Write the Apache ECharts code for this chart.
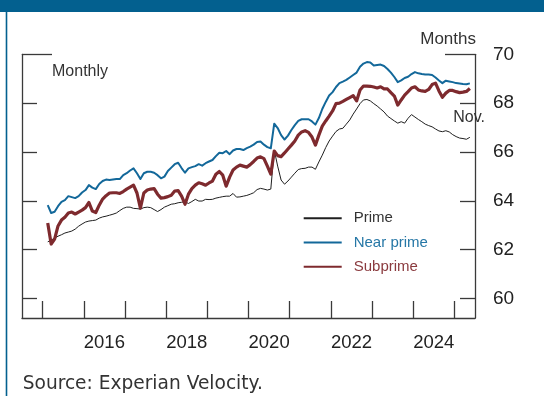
<!DOCTYPE html>
<html>
<head>
<meta charset="utf-8">
<style>
  html, body { margin: 0; padding: 0; background: #ffffff; }
  #chart { width: 544px; height: 396px; }
</style>
<script src="https://cdn.jsdelivr.net/npm/echarts@6/dist/echarts.min.js"></script>
</head>
<body>
<div id="chart"></div>
<script>
// Average loan term (months), monthly, August 2014 through November 2024
const startYear = 2014;
const startMonth = 8;

const prime = [
  62.32, 62.39, 62.47, 62.55, 62.61, 62.68, 62.72, 62.76, 62.84, 62.96, 63.05, 63.13,
  63.17, 63.19, 63.21, 63.29, 63.34, 63.37, 63.41, 63.45, 63.50, 63.60, 63.69, 63.74,
  63.74, 63.69, 63.68, 63.66, 63.72, 63.74, 63.72, 63.64, 63.56, 63.64, 63.74, 63.80,
  63.86, 63.88, 63.92, 63.94, 63.96, 63.89, 63.97, 64.06, 63.99, 63.99, 64.06, 64.05,
  64.06, 64.11, 64.14, 64.17, 64.19, 64.19, 64.30, 64.15, 64.16, 64.19, 64.22, 64.27,
  64.33, 64.46, 64.51, 64.48, 64.44, 64.48, 66.08, 65.42, 64.85, 64.68, 64.81, 64.97,
  65.13, 65.28, 65.32, 65.33, 65.38, 65.38, 65.29, 65.59, 65.87, 66.18, 66.45, 66.65,
  66.84, 66.94, 66.97, 67.14, 67.31, 67.55, 67.76, 67.98, 68.13, 68.15, 68.09, 67.98,
  67.88, 67.76, 67.64, 67.47, 67.37, 67.27, 67.18, 67.24, 67.18, 67.38, 67.53, 67.43,
  67.33, 67.24, 67.14, 67.08, 67.03, 66.94, 66.86, 66.83, 66.87, 66.82, 66.71, 66.63,
  66.57, 66.55, 66.52, 66.60
];

const nearPrime = [
  63.82, 63.50, 63.55, 63.78, 63.96, 64.03, 64.19, 64.15, 64.11, 64.19, 64.34, 64.44,
  64.64, 64.54, 64.48, 64.69, 64.81, 64.87, 64.85, 64.87, 64.89, 64.89, 65.05, 65.13,
  65.24, 65.33, 65.13, 64.89, 65.13, 65.19, 65.19, 65.15, 65.05, 64.92, 64.99, 65.22,
  65.36, 65.50, 65.56, 65.34, 65.15, 65.33, 65.38, 65.42, 65.50, 65.44, 65.54, 65.61,
  65.67, 65.83, 65.97, 65.95, 66.04, 65.91, 66.06, 66.12, 66.12, 66.08, 66.16, 66.22,
  66.30, 66.41, 66.43, 66.30, 66.20, 66.15, 67.16, 66.98, 66.69, 66.51, 66.67, 66.90,
  67.10, 67.27, 67.34, 67.34, 67.34, 67.25, 67.12, 67.39, 67.76, 68.05, 68.31, 68.45,
  68.66, 68.82, 68.88, 68.95, 69.05, 69.15, 69.25, 69.49, 69.62, 69.68, 69.66, 69.54,
  69.56, 69.58, 69.52, 69.40, 69.25, 69.07, 68.86, 68.93, 69.03, 69.08, 69.19, 69.27,
  69.22, 69.19, 69.17, 69.17, 69.15, 69.05, 68.93, 68.82, 68.92, 68.89, 68.86, 68.82,
  68.80, 68.78, 68.77, 68.81
];

const subprime = [
  63.09, 62.23, 62.43, 62.97, 63.21, 63.33, 63.50, 63.54, 63.46, 63.54, 63.62, 63.72,
  63.93, 63.58, 63.52, 63.82, 64.07, 64.21, 64.32, 64.33, 64.33, 64.30, 64.38, 64.48,
  64.56, 64.64, 64.32, 63.70, 64.32, 64.44, 64.48, 64.50, 64.27, 64.11, 64.13, 64.17,
  64.23, 64.40, 64.42, 64.19, 63.86, 64.27, 64.50, 64.64, 64.74, 64.70, 64.64, 64.73,
  64.81, 65.09, 65.20, 65.05, 64.60, 64.97, 65.26, 65.38, 65.46, 65.42, 65.38, 65.48,
  65.61, 65.75, 65.80, 65.73, 65.42, 65.09, 66.04, 65.85, 65.81, 65.96, 66.12, 66.28,
  66.45, 66.69, 66.82, 66.87, 66.80, 66.61, 66.28, 66.69, 67.06, 67.27, 67.47, 67.68,
  67.98, 68.00, 68.07, 68.15, 68.23, 68.31, 68.09, 68.54, 68.70, 68.70, 68.69, 68.66,
  68.62, 68.67, 68.58, 68.58, 68.43, 68.29, 67.92, 68.13, 68.33, 68.47, 68.62, 68.67,
  68.54, 68.50, 68.48, 68.56, 68.76, 68.82, 68.50, 68.24, 68.41, 68.52, 68.52, 68.47,
  68.43, 68.45, 68.48, 68.60
];

const yearLabels = [2016, 2018, 2020, 2022, 2024];
const yearTicks = [2014.5, 2015.5, 2016.5, 2017.5, 2018.5, 2019.5, 2020.5, 2021.5, 2022.5, 2023.5, 2024.5];
const valueLabels = [60, 62, 64, 66, 68, 70];
const valueTicks = [60, 62, 64, 66, 68];
const topTick = [70];

const seriesNames = ['Prime', 'Near prime', 'Subprime'];
const seriesColors = ['#1f1f1f', '#13689a', '#7e2a2e'];
const legendTextColors = ['#333333', '#2677a6', '#8a3a3e'];

const BLUE_BAND = '#03608f';
const FRAME = '#3a3a3a';
const SANS = '"Liberation Sans", Arial, Helvetica, sans-serif';

// monthly points placed at the middle of each month on a fractional-year scale
function toPoints(values) {
  return values.map((v, i) => [startYear + (startMonth - 1 + i + 0.5) / 12, v]);
}

const yRange = { min: 59.2, max: 70 };

function sideAxis(position, ticks, tickLen, showLine, labels) {
  return {
    type: 'value',
    position: position,
    min: yRange.min,
    max: yRange.max,
    axisLine: { show: showLine, lineStyle: { color: FRAME, width: 1.3 } },
    axisTick: { show: true, inside: true, length: tickLen, customValues: ticks,
                lineStyle: { color: FRAME, width: 1.3 } },
    axisLabel: labels ? {
      show: true, customValues: labels, margin: 18,
      color: '#222', fontSize: 19, fontFamily: SANS
    } : { show: false },
    splitLine: { show: false }
  };
}

const chart = echarts.init(document.getElementById('chart'), null, { renderer: 'canvas' });

chart.setOption({
  animation: false,
  backgroundColor: '#ffffff',
  grid: { left: 22, right: 69, top: 54.3, bottom: 78, containLabel: false },
  xAxis: {
    type: 'value',
    min: 2014,
    max: 2025,
    axisLine: { show: true, lineStyle: { color: FRAME, width: 1.3 } },
    axisTick: { show: true, inside: true, length: 17, customValues: yearTicks,
                lineStyle: { color: FRAME, width: 1.3 } },
    axisLabel: { show: true, customValues: yearLabels, margin: 15,
                 color: '#222', fontSize: 18.5, fontFamily: SANS,
                 formatter: v => String(v) },
    splitLine: { show: false }
  },
  yAxis: [
    sideAxis('right', valueTicks, 15, true, valueLabels),
    sideAxis('left', valueTicks, 15, true, null),
    sideAxis('left', topTick, 30, false, null),
    sideAxis('right', topTick, 30, false, null)
  ],
  legend: {
    orient: 'vertical',
    left: 302.7,
    top: 210.7,
    itemWidth: 38,
    itemHeight: 14,
    itemGap: 9.3,
    padding: 0,
    itemStyle: { opacity: 0 },
    textStyle: { fontSize: 15, fontFamily: SANS, padding: [0, 0, 0, 7] },
    data: seriesNames.map((n, k) => ({ name: n, textStyle: { color: legendTextColors[k] } }))
  },
  series: [
    { name: seriesNames[0], data: prime, width: 1 },
    { name: seriesNames[1], data: nearPrime, width: 2 },
    { name: seriesNames[2], data: subprime, width: 3.2 }
  ].map((s, k) => ({
    type: 'line',
    name: s.name,
    data: toPoints(s.data),
    showSymbol: false,
    symbol: 'none',
    z: 2 + k,
    lineStyle: { color: seriesColors[k], width: s.width, join: 'round' },
    itemStyle: { color: seriesColors[k] }
  })),
  graphic: [
    { type: 'rect', left: 0, top: 0, z: 10,
      shape: { width: 544, height: 12 }, style: { fill: BLUE_BAND } },
    { type: 'line', z: 10,
      shape: { x1: 6.5, y1: 12, x2: 6.5, y2: 396 }, style: { stroke: BLUE_BAND, lineWidth: 1.6 } },
    { type: 'text', z: 10, x: 476, y: 39,
      style: { text: 'Months', fill: '#333', font: '17px ' + SANS, align: 'right', verticalAlign: 'middle' } },
    { type: 'text', z: 10, x: 52, y: 71.5,
      style: { text: 'Monthly', fill: '#333', font: '16px ' + SANS, align: 'left', verticalAlign: 'middle' } },
    { type: 'text', z: 10, x: 453.3, y: 117.5,
      style: { text: 'Nov.', fill: '#333', font: '16px ' + SANS, align: 'left', verticalAlign: 'middle' } },
    { type: 'text', z: 10, x: 22.7, y: 384.5,
      style: { text: 'Source: Experian Velocity.', fill: '#333', font: '18.6px "DejaVu Sans", Verdana, sans-serif', align: 'left', verticalAlign: 'middle' } }
  ]
});
</script>
</body>
</html>
